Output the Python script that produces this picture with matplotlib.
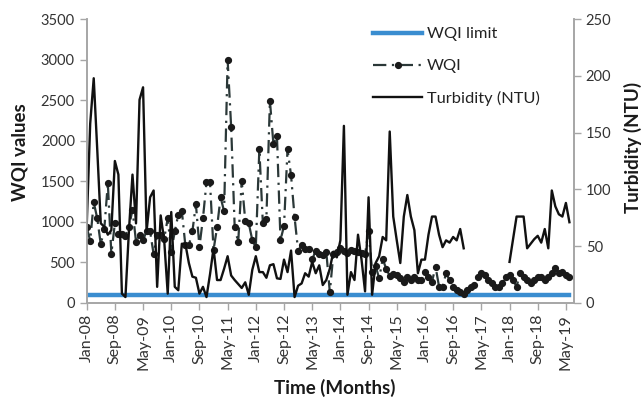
import numpy as np
import matplotlib
matplotlib.use("Agg")
import matplotlib.pyplot as plt

# monthly series, Jan-08 .. Jun-19
wqi = [931, 766, 1240, 1042, 721, 910, 1475, 605, 980, 848,
       848, 830, 931, 1150, 753, 836, 774, 882, 882, 598,
       836, 836, 790, 1042, 630, 882, 1087, 1136, 709, 709,
       882, 1215, 692, 1042, 1487, 1487, 651, 931, 1302, 1129,
       3000, 2174, 939, 746, 1507, 1013, 980, 774, 684, 1894,
       980, 1037, 2495, 1956, 2059, 774, 947, 1894, 1573, 1055,
       642, 709, 667, 659, 536, 642, 601, 585, 630, 130,
       600, 625, 680, 640, 620, 651, 640, 630, 620, 600,
       890, 383, 453, 301, 540, 420, 330, 350, 340, 300,
       260, 320, 280, 320, 280, 280, 383, 320, 259, 445,
       200, 198, 363, 280, 198, 157, 136, 107, 157, 198,
       218, 321, 363, 342, 280, 239, 198, 198, 239, 321,
       342, 280, 198, 363, 321, 280, 239, 280, 321, 321,
       280, 321, 363, 425, 363, 380, 342, 321]
nan = np.nan
turbidity = [67, 158, 198, 135, 70, 67, 60, 64, 125, 113,
             8, 5, 64, 113, 70, 179, 190, 63, 93, 99,
             14, 77, 55, 8, 80, 14, 11, 52, 52, 35,
             23, 22, 8, 14, 5, 25, 48, 20, 20, 30,
             41, 24, 20, 16.5, 13, 18, 7, 29, 41, 27,
             27, 22, 33, 34, 21.5, 21, 38, 27, 46, 5,
             15, 17, 26, 23, 36, 26, 33, 15.6, 20, 30,
             45, 40, 55, 156, 7, 27, 20, 60, 38, 10,
             93, 7, 35, 41, 58, 55, 151, 76, 55, 35,
             76, 95, 76, 64, 26, 38, 38, 60, 76, 76,
             60, 49, 55, 53, 58, 55, 65, 48, nan, nan,
             nan, nan, nan, nan, nan, nan, nan, nan, nan, nan,
             36, 56, 76, 76, 76, 48, 52, 56, 59, 53,
             65, 48, 99, 85, 78, 76, 88, 71]
wqi_limit = 100
tick_labels = ["Jan-08", "Sep-08", "May-09", "Jan-10", "Sep-10", "May-11",
               "Jan-12", "Sep-12", "May-13", "Jan-14", "Sep-14", "May-15",
               "Jan-16", "Sep-16", "May-17", "Jan-18", "Sep-18", "May-19"]

plt.rcParams.update({"font.family": ["Lato", "DejaVu Sans"], "font.size": 10})
GREY = "#a6a6a6"
TXT = "#333333"
LAB = "#1a1a1a"

months = np.arange(len(wqi))
fig = plt.figure(figsize=(6.43, 3.97), dpi=100)
ax = fig.add_axes([0.1348, 0.2375, 0.7579, 0.7139])
ax2 = ax.twinx()

l1, = ax.plot(months, [wqi_limit] * len(months), color="#3a8dd0", lw=3.2,
              label="WQI limit", zorder=2)
l2, = ax.plot(months, wqi, color="#2b3838", lw=1.6, ls=(0, (6, 2.5, 1, 2.5)),
              marker="o", ms=4.2, mfc="#1a1a1a", mec="#1a1a1a", label="WQI", zorder=3)
l3, = ax2.plot(months, turbidity, color="#111111", lw=1.7, label="Turbidity (NTU)")

ax.set_xlim(0, 138.3)
ax.set_ylim(0, 3500)
ax2.set_ylim(0, 250)
ax.set_yticks(np.arange(0, 3501, 500))
ax2.set_yticks(np.arange(0, 251, 50))
ax.set_xticks(np.arange(0, 137, 8))
ax.set_xticklabels(tick_labels, rotation=90, fontsize=11.5)
ax.tick_params(axis="y", labelsize=10.5)
ax2.tick_params(axis="y", labelsize=10.5)

for a in (ax, ax2):
    for s in a.spines.values():
        s.set_color(GREY)
        s.set_linewidth(1.2)
    a.spines["top"].set_visible(False)
    a.tick_params(colors=GREY, labelcolor=TXT, length=5, width=1.0)
ax.tick_params(axis="x", pad=3)

# axis titles placed where the reference has them
fig.text(20 / 643, 1 - 152 / 397, "WQI values", rotation=90, ha="center", va="center",
         fontsize=13.5, fontweight="bold", color=LAB)
fig.text(633 / 643, 1 - 147 / 397, "Turbidity (NTU)", rotation=90, ha="center",
         va="center", fontsize=13.5, fontweight="bold", color=LAB)
fig.text(335 / 643, 1 - 388 / 397, "Time (Months)", ha="center", va="center",
         fontsize=13.5, fontweight="bold", color=LAB)

ax.legend(handles=[l1, l2, l3], loc="upper left",
          bbox_to_anchor=(373 / 643, 1 - 27 / 397), bbox_transform=fig.transFigure,
          frameon=False, fontsize=11.8, handlelength=3.0, labelspacing=1.06,
          handletextpad=0.3, borderpad=0, borderaxespad=0, numpoints=1,
          labelcolor="#222222")

fig.savefig("out.png", dpi=100)
